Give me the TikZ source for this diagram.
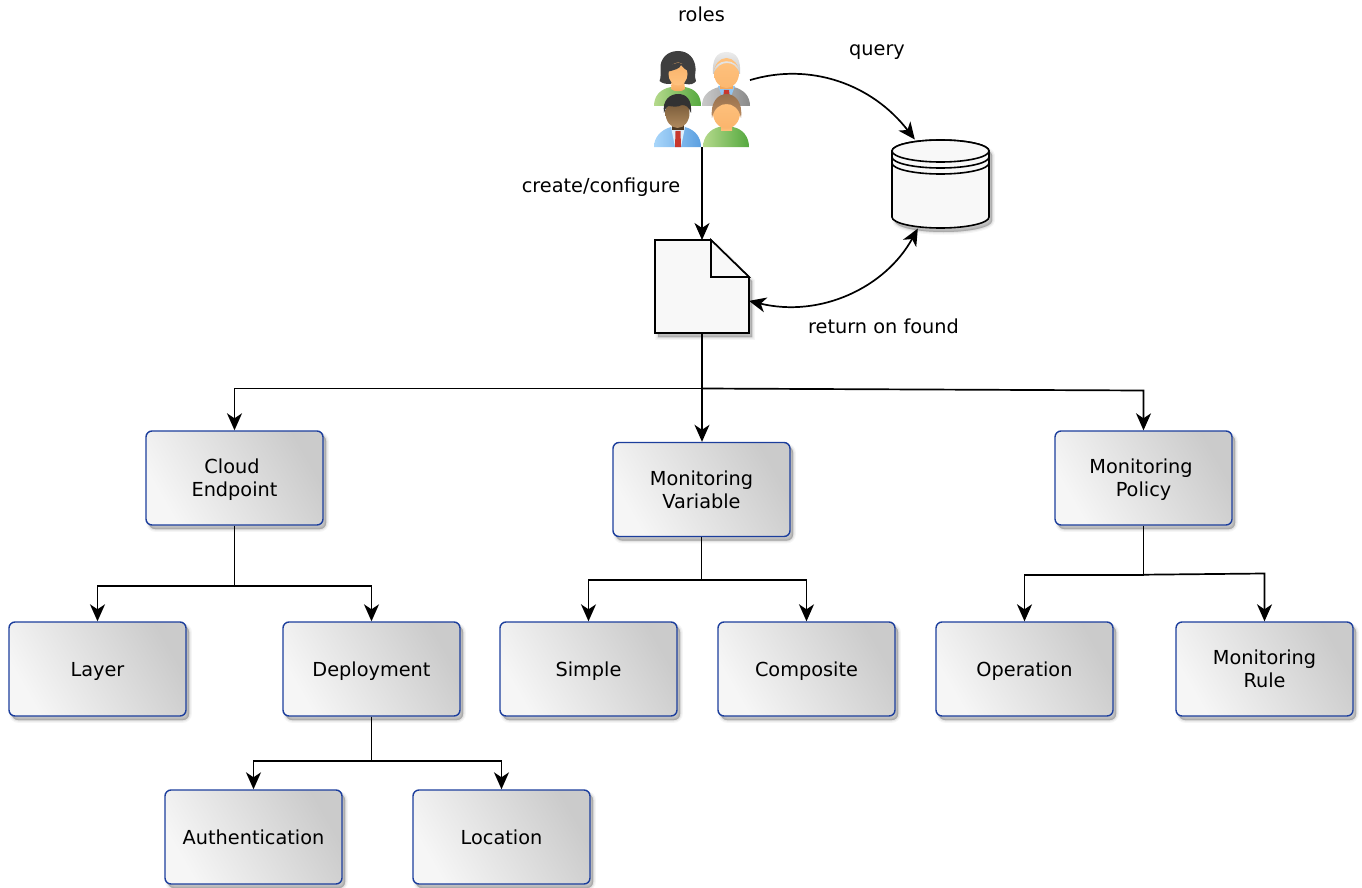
\documentclass[tikz,border=0pt]{standalone}
\usepackage{fontspec}
\setmainfont{DejaVu Sans}
\usetikzlibrary{arrows.meta,calc}
\newcommand{\st}{\vrule width 0pt height 18pt depth 4pt\relax}
\tikzset{
  softshadow/.style={
    preaction={draw=black,fill=black,opacity=.04,line width=5.5pt,transform canvas={shift={(3,4)}}},
    preaction={draw=black,fill=black,opacity=.06,line width=3pt,transform canvas={shift={(3,4)}}},
    preaction={draw=black,fill=black,opacity=.07,line width=1pt,transform canvas={shift={(3,4)}}},
    preaction={draw=none,fill=black,opacity=.08,transform canvas={shift={(3,4)}}}},
  box/.style={softshadow,draw={rgb,255:red,28;green,62;blue,156},line width=1.4pt,rounded corners=6pt,
    minimum width=177pt,minimum height=94pt,inner sep=0pt,align=center,
    shading=axis,left color=boxa,right color=boxb,shading angle=120,
    font=\fontsize{19.3}{23}\selectfont,text=black},
  lbl/.style={font=\fontsize{19.3}{23}\selectfont,text=black,inner sep=0pt},
  holder/.style={inner sep=0pt,outer sep=0pt},
  link/.style={draw=black,line width=1.7pt,-{Stealth[length=17pt,width=15pt,inset=5pt]}},
  both/.style={draw=black,line width=1.7pt,{Stealth[length=17pt,width=15pt,inset=5pt]}-{Stealth[length=17pt,width=15pt,inset=5pt]}},
  plain/.style={draw=black,line width=1.7pt},
  sheet/.style={fill=paper,draw=black,line width=1.6pt,line join=miter},
}
\definecolor{boxa}{HTML}{F6F6F6}
\definecolor{boxb}{HTML}{CBCBCB}
\definecolor{paper}{HTML}{F8F8F8}
\definecolor{skin}{HTML}{FFC27E}
\definecolor{skinb}{HTML}{F5A85C}
\definecolor{greena}{HTML}{B5D98C}
\definecolor{greenb}{HTML}{55A93F}
\definecolor{bluea}{HTML}{A9D6FA}
\definecolor{blueb}{HTML}{5B9FE0}
\definecolor{greya}{HTML}{C9C9C9}
\definecolor{greyb}{HTML}{8A8A8A}
\definecolor{hairdark}{HTML}{3F3F3F}
\definecolor{tie}{HTML}{C8382E}
\definecolor{tanhair}{HTML}{BC8C60}
\definecolor{browntop}{HTML}{6E5232}
\definecolor{brownbot}{HTML}{B08A5E}
\begin{document}
\begin{tikzpicture}[x=1pt,y=-1pt]
\useasboundingbox (0,0) rectangle (1362,888);
% boxes
\node[box] (cloud) at (234.5,478) {\st Cloud\hspace*{5pt}\\\st Endpoint};
\node[box] (var) at (701.5,489.5) {\st Monitoring\\\st Variable};
\node[box] (policy) at (1143.5,478) {\st Monitoring\hspace*{5pt}\\\st Policy};
\node[box] (layer) at (97.5,669) {\st Layer};
\node[box] (deploy) at (371.5,669) {\st Deployment};
\node[box] (simple) at (588.5,669) {\st Simple};
\node[box] (composite) at (806.5,669) {\st Composite};
\node[box] (operation) at (1024.5,669) {\st Operation};
\node[box] (rule) at (1264.5,669) {\st Monitoring\\\st Rule};
\node[box] (auth) at (253.5,837) {\st Authentication};
\node[box] (location) at (501.5,837) {\st Location};
% labels
\node[lbl] (troles) at (701.5,15) {\st roles};
\node[lbl] (tquery) at (877,49) {\st query};
\node[lbl] (tcreate) at (601,186) {\st create/configure};
\node[lbl] (tfound) at (883.5,326) {\st return on found};
% holders
\node[holder,minimum width=96pt,minimum height=95pt] (people) at (702,99.5) {};
\node[holder,minimum width=94pt,minimum height=93pt] (doc) at (702,286.5) {};
\node[holder,minimum width=97pt,minimum height=89pt] (db) at (940.5,184) {};
% document
\path[softshadow,sheet] (655,240) -- (711,240) -- (749,277) -- (749,333) -- (655,333) -- cycle;
\draw[sheet] (711,240) -- (749,277) -- (711,277) -- cycle;
% database
\path[softshadow,sheet] (892,151) arc[x radius=48.5,y radius=11,start angle=180,end angle=360] -- (989,217)
  arc[x radius=48.5,y radius=11,start angle=0,end angle=180] -- cycle;
\draw[sheet] (940.5,151) ellipse[x radius=48.5,y radius=11];
\draw[sheet,fill=none] (892,151) -- (892,157) arc[x radius=48.5,y radius=11,start angle=180,end angle=0] -- (989,151);
\draw[sheet,fill=none] (892,157) -- (892,163) arc[x radius=48.5,y radius=11,start angle=180,end angle=0] -- (989,157);
% people: woman
\fill[hairdark] (678,51) .. controls (667,51) and (660,59) .. (660.5,68) .. controls (660.5,74) and (661,78) .. (659.5,81) .. controls (663,84) and (667,84) .. (671,84)
  -- (686,84) .. controls (690,85) and (694,84) .. (696,81) .. controls (694,76) and (696,72) .. (695.5,68) .. controls (695,59) and (689,51) .. (678,51) -- cycle;
\path[left color=greena,right color=greenb] (654,106) .. controls (654,96) and (660,89) .. (671,87) -- (685,87)
  .. controls (696,89) and (701,96) .. (701,106) -- cycle;
\path[top color=skin,bottom color=skinb] (672,80) -- (684,80) -- (685,89) .. controls (682,92) and (674,92) .. (671,89) -- cycle;
\path[top color=skinb!60!skin,bottom color=skin] (678,74) ellipse[x radius=9.5,y radius=11.5];
\fill[hairdark] (667,72) .. controls (668,60) and (688,60) .. (690,72) .. controls (686,70) and (683,68) .. (681,65)
  .. controls (680,69) and (674,70) .. (667,72) -- cycle;
% people: grey man
\path[top color=greya!35!white,bottom color=greya] (726.5,52) .. controls (716,52) and (712,60) .. (713,74) -- (740,74) .. controls (741,60) and (737,52) .. (726.5,52) -- cycle;
\path[left color=greya,right color=greyb] (702,106) .. controls (702,96) and (708,90) .. (719,87) -- (734,87)
  .. controls (744,90) and (750,96) .. (750,106) -- cycle;
\fill[bluea!70!blueb] (718,86) -- (735,86) -- (730,99) -- (723,99) -- cycle;
\fill[tie] (724,90) -- (729,90) -- (730,99) -- (723,99) -- cycle;
\fill[skinb] (720,80) rectangle (733,89);
\path[top color=skin,bottom color=skinb!40!skin] (726.5,73) ellipse[x radius=12.5,y radius=15];
\path[top color=greya!25!white,bottom color=greya] (713.5,74) .. controls (713,58) and (739,56) .. (740,74) .. controls (737,66) and (733,63) .. (727,63)
  .. controls (722,63) and (716,66) .. (713.5,74) -- cycle;
% people: brown man
\path[left color=bluea,right color=blueb] (654,147) .. controls (654,138) and (660,130) .. (671,127) -- (685,127)
  .. controls (696,130) and (701,138) .. (701,147) -- cycle;
\fill[bluea!40!white] (671,127) -- (685,127) -- (681,147) -- (675,147) -- cycle;
\fill[tie] (675.5,131) -- (680.5,131) -- (681,147) -- (675,147) -- cycle;
\fill[browntop!70!black] (672,122) rectangle (684,130);
\path[top color=browntop,bottom color=brownbot] (677.5,113) ellipse[x radius=12,y radius=15];
\fill[hairdark!80!black] (664,113) .. controls (662,100) and (670,94) .. (678,94) .. controls (687,94) and (692,100) .. (691,113)
  .. controls (689,107) and (686,105) .. (682,105) .. controls (677,108) and (671,106) .. (668,106) .. controls (666,107) and (665,110) .. (664,113) -- cycle;
% people: tan-haired person
\path[left color=greena,right color=greenb] (703,147) .. controls (703,137) and (710,129) .. (719,127) -- (733,127)
  .. controls (743,129) and (749,137) .. (749,147) -- cycle;
\path[top color=skinb,bottom color=skin] (721,122) rectangle (732,131);
\path[top color=skin,bottom color=skinb!50!skin] (726.5,113) ellipse[x radius=13.5,y radius=15.5];
\path[top color=tanhair!80!black,bottom color=tanhair] (712,118) .. controls (710,102) and (718,94) .. (726.5,94) .. controls (735,94) and (743,102) .. (741,118)
  .. controls (739,108) and (733,104) .. (726.5,104) .. controls (720,104) and (714,108) .. (712,118) -- cycle;
% connectors
\draw[link] (people.south) -- (doc.north);
\draw[link] (people.22) .. controls (810,62) and (872,84) .. (db.120);
\draw[both] (doc.-17) .. controls (820,318) and (885,288) .. (db.243);
\coordinate (hub) at ($(doc.south)+(0,55.5)$);
\draw[plain] (doc.south) -- (hub);
\draw[link] (hub) -| (cloud.north);
\draw[link] (hub) -- (hub |- var.north);
\coordinate (hubr) at (1143.5,390.5);
\draw[link] (hub) -- (hubr) -- (policy.north);
\coordinate (ch) at ($(cloud.south)+(0,60.5)$);
\draw[plain] (cloud.south) -- (ch);
\draw[link] (ch) -| (layer.north);
\draw[link] (ch) -| (deploy.north);
\coordinate (vh) at ($(var.south)+(0,42.5)$);
\draw[plain] (var.south) -- (vh);
\draw[link] (vh) -| (simple.north);
\draw[link] (vh) -| (composite.north);
\coordinate (ph) at ($(policy.south)+(0,49)$);
\draw[plain] (policy.south) -- (ph);
\draw[link] (ph) -| (operation.north);
\coordinate (phr) at (1264.5,573.5);
\draw[link] (ph) -- (phr) -- (rule.north);
\coordinate (dh) at ($(deploy.south)+(0,44)$);
\draw[plain] (deploy.south) -- (dh);
\draw[link] (dh) -| (auth.north);
\draw[link] (dh) -| (location.north);
\end{tikzpicture}
\end{document}
